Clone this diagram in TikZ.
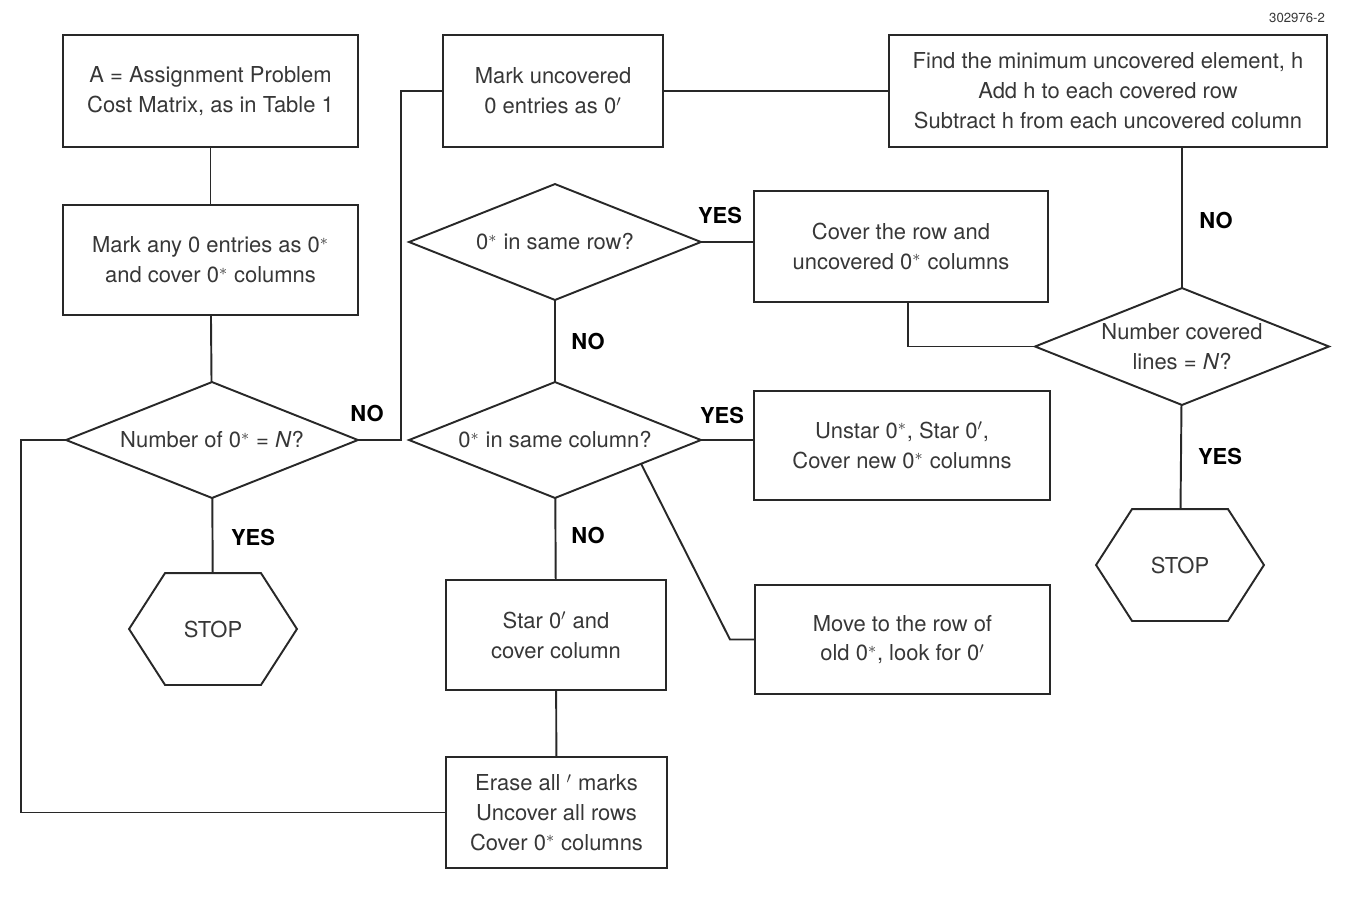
\documentclass[tikz,border=0pt]{standalone}
\usepackage{fontspec}
\setmainfont{TeX Gyre Heros}
\usetikzlibrary{calc}
\definecolor{InkGray}{RGB}{40,40,40}
\definecolor{TextGray}{RGB}{55,55,55}

\begin{document}
\begin{tikzpicture}[x=0.02cm, y=-0.02cm, line width=1.1pt, draw=InkGray,
    box/.style={draw=InkGray, rectangle, align=center, text=TextGray, inner sep=2pt,
      font=\fontsize{12.5}{17}\selectfont},
    decision/.style={rectangle, align=center, text=TextGray, inner sep=0pt,
      minimum width=5.8cm, minimum height=2.28cm, font=\fontsize{12.5}{17}\selectfont},
    stopsign/.style={rectangle, text=TextGray, minimum width=3.32cm, minimum height=2.2cm,
      inner sep=0pt, font=\fontsize{12.5}{17}\selectfont},
    answer/.style={font=\fontsize{12.5}{15}\selectfont\bfseries, text=black}]
  \useasboundingbox (0,0) rectangle (1358,904);
  \node[font=\fontsize{7.5}{9}\selectfont, text=TextGray] (figno) at (1297,18) {302976-2};

  % left column
  \node[box, minimum width=5.9cm, minimum height=2.24cm] (start) at (210.5,91) {A = Assignment Problem\\Cost Matrix, as in Table 1};
  \node[box, minimum width=5.9cm, minimum height=2.2cm] (markany) at (210.5,260) {Mark any 0 entries as 0$^*$\\and cover 0$^*$ columns};
  \node[decision] (numq) at (212,440) {Number of 0$^*$ = \textit{N}?};
  \node[stopsign] (stopL) at (213,629) {STOP};

  % middle column
  \node[box, minimum width=4.4cm, minimum height=2.24cm] (markun) at (553,91) {Mark uncovered\\0 entries as 0$'$};
  \node[decision] (rowq) at (555,242) {0$^*$ in same row?};
  \node[decision] (colq) at (555,440) {0$^*$ in same column?};
  \node[box, minimum width=4.4cm, minimum height=2.2cm] (starbox) at (556,635) {Star 0$'$ and\\cover column};
  \node[box, minimum width=4.42cm, minimum height=2.22cm] (erase) at (556.5,812.5) {Erase all $'$ marks\\Uncover all rows\\Cover 0$^*$ columns};

  % right side
  \node[box, minimum width=5.88cm, minimum height=2.22cm] (coverrow) at (901,246.5) {Cover the row and\\uncovered 0$^*$ columns};
  \node[box, minimum width=5.92cm, minimum height=2.18cm] (unstar) at (902,445.5) {Unstar 0$^*$, Star 0$'$,\\Cover new 0$^*$ columns};
  \node[box, minimum width=5.9cm, minimum height=2.18cm] (movebox) at (902.5,639.5) {Move to the row of\\old 0$^*$, look for 0$'$};
  \node[box, minimum width=8.76cm, minimum height=2.24cm] (findh) at (1108,91) {Find the minimum uncovered element, h\\Add h to each covered row\\Subtract h from each uncovered column};
  \node[decision, minimum width=5.84cm, minimum height=2.3cm] (linesq) at (1182,346.5) {Number covered\\lines = \textit{N}?};
  \node[stopsign] (stopR) at (1180,565) {STOP};

  % outlines of diamonds and hexagons
  \foreach \d in {numq,rowq,colq,linesq}
    \draw (\d.north) -- (\d.east) -- (\d.south) -- (\d.west) -- cycle;
  \foreach \s in {stopL,stopR}
    \draw ($(\s.north west)+(36,0)$) -- ($(\s.north east)+(-36,0)$) -- (\s.east)
      -- ($(\s.south east)+(-36,0)$) -- ($(\s.south west)+(36,0)$) -- (\s.west) -- cycle;

  % connectors
  \draw (start) -- (markany);
  \draw (markany) -- (numq);
  \draw (numq) -- (stopL);
  \draw (numq.east) -- ++(43,0) |- (markun.west);
  \draw (numq.west) -- ++(-45,0) |- (erase.west);
  \draw (markun.east) -- (findh.west);
  \draw (findh.south -| linesq.north) -- (linesq.north);
  \draw (linesq) -- (stopR);
  \draw (linesq.west) -| ([xshift=0.14cm]coverrow.south);
  \draw (rowq.east) -- (rowq.east -| coverrow.west);
  \draw (rowq) -- (colq);
  \draw (colq.east) -- (colq.east -| unstar.west);
  \draw (colq) -- (starbox);
  \coordinate (kink) at (730,0);
  \draw ($(colq.east)!0.41!(colq.south)$) -- (kink |- movebox.west) -- (movebox.west);
  \draw (starbox) -- (erase);

  % yes / no labels
  \node[answer] (noL) at (367,413) {NO};
  \node[answer] (yesL) at (253,537) {YES};
  \node[answer] (yesRow) at (720,215) {YES};
  \node[answer] (noRow) at (588,341) {NO};
  \node[answer] (yesCol) at (722,415) {YES};
  \node[answer] (noCol) at (588,535) {NO};
  \node[answer] (noR) at (1216,220) {NO};
  \node[answer] (yesR) at (1220,456) {YES};
\end{tikzpicture}
\end{document}
